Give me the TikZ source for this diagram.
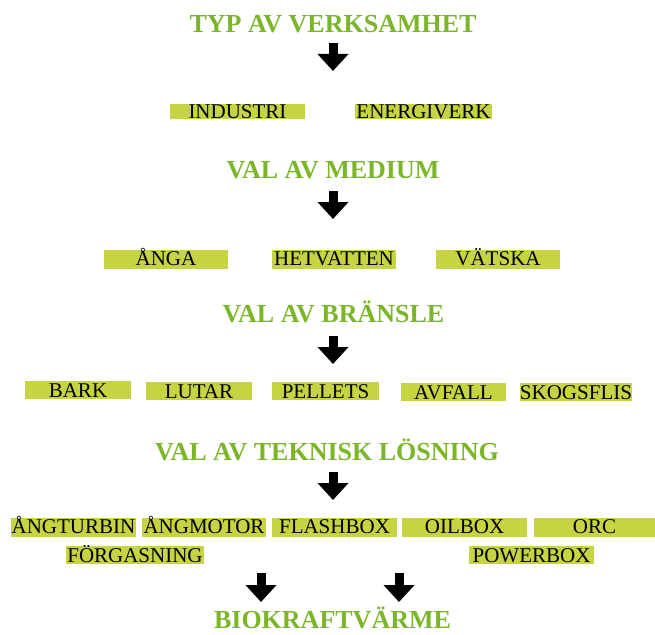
\documentclass[tikz,border=0pt]{standalone}
\usepackage{fontspec}
\setmainfont{Liberation Serif}
\usetikzlibrary{arrows.meta}
\definecolor{rubrikgron}{RGB}{122,182,40}
\definecolor{valgul}{RGB}{198,211,66}

\begin{document}
\begin{tikzpicture}[%
      x=1pt, y=-1pt,
      rubrik/.style={anchor=base, inner sep=0pt, text=rubrikgron,
        font=\fontsize{26}{30}\selectfont\bfseries},
      val/.style={fill=valgul, inner sep=0pt, text=black,
        font=\fontsize{21}{25}\selectfont, text height=15pt, text depth=4pt},
      rad1/.style={text height=14.5pt, text depth=0.5pt},
      rad3/.style={text height=16.5pt, text depth=1.5pt},
      rad5/.style={text height=16pt, text depth=2pt},
      pil/.style={line width=9pt, -{Triangle[width=30pt,length=17pt]}},
      ]
      \useasboundingbox (0,0) rectangle (655,634);

      % rubriker
      \node[rubrik] (typ) at (333,33) {TYP AV VERKSAMHET};
      \node[rubrik] (medium) at (333,178) {VAL AV MEDIUM};
      \node[rubrik] (bransle) at (333.5,322) {VAL AV BRÄNSLE};
      \node[rubrik] (teknik) at (327,460) {VAL AV TEKNISK LÖSNING};
      \node[rubrik] (biokraft) at (332.5,628) {BIOKRAFTVÄRME};

      % typ av verksamhet
      \node[val, rad1, minimum width=135pt] (industri) at (237.5,111.5) {INDUSTRI};
      \node[val, rad1, minimum width=137pt] (energiverk) at (423.5,111.5) {ENERGIVERK};

      % medium
      \node[val, minimum width=124pt] (anga) at (166,259.5) {ÅNGA};
      \node[val, minimum width=124pt] (hetvatten) at (334,259.5) {HETVATTEN};
      \node[val, minimum width=124pt] (vatska) at (498,259.5) {VÄTSKA};

      % bränsle
      \node[val, rad3, minimum width=106pt] (bark) at (78,390) {BARK};
      \node[val, rad3, minimum width=106pt] (lutar) at (199,391) {LUTAR};
      \node[val, rad3, minimum width=107pt] (pellets) at (325.5,391) {PELLETS};
      \node[val, rad3, minimum width=105pt] (avfall) at (453.5,392) {AVFALL};
      \node[val, rad3, minimum width=106pt] (skogsflis) at (576,392) {SKOGSFLIS};

      % teknisk lösning
      \node[val, minimum width=125pt] (angturbin) at (73.5,527.5) {ÅNGTURBIN};
      \node[val, minimum width=124pt] (angmotor) at (204,527.5) {ÅNGMOTOR};
      \node[val, minimum width=125pt] (flashbox) at (334.5,527.5) {FLASHBOX};
      \node[val, minimum width=125pt] (oilbox) at (464.5,527.5) {OILBOX};
      \node[val, minimum width=121pt] (orc) at (594.5,527.5) {ORC};
      \node[val, rad5, minimum width=138pt] (forgasning) at (135,555) {FÖRGASNING};
      \node[val, rad5, minimum width=125pt] (powerbox) at (531.5,555) {POWERBOX};

      % pilar
      \coordinate (p1a) at (333,43);  \coordinate (p1b) at (333,71);
      \coordinate (p2a) at (333,191); \coordinate (p2b) at (333,219);
      \coordinate (p3a) at (333,336); \coordinate (p3b) at (333,364);
      \coordinate (p4a) at (333,472); \coordinate (p4b) at (333,500);
      \coordinate (p5a) at (261,573); \coordinate (p5b) at (261,602);
      \coordinate (p6a) at (399,573); \coordinate (p6b) at (399,602);
      \draw[pil] (p1a) -- (p1b);
      \draw[pil] (p2a) -- (p2b);
      \draw[pil] (p3a) -- (p3b);
      \draw[pil] (p4a) -- (p4b);
      \draw[pil] (p5a) -- (p5b);
      \draw[pil] (p6a) -- (p6b);
\end{tikzpicture}
\end{document}
